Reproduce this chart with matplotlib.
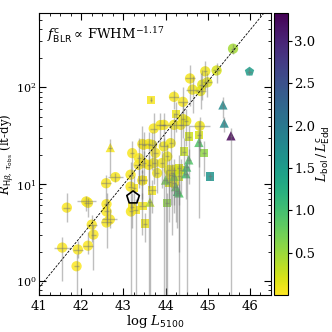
import numpy as np
import matplotlib
matplotlib.use("Agg")
import matplotlib.pyplot as plt
from matplotlib.ticker import MultipleLocator

plt.rcParams['font.family'] = 'serif'
plt.rcParams['font.serif'] = ['DejaVu Serif']
plt.rcParams['mathtext.fontset'] = 'dejavuserif'
plt.rcParams['font.size'] = 10

# circles: log L5100, R, xerr, lower R, upper R, Lbol/LEdd
circ_x = [41.55, 41.66, 41.89, 41.92, 42.12, 42.16, 42.16, 42.25, 42.29, 42.59,
          42.81, 42.60, 42.60, 42.60, 42.68, 43.17, 43.17, 43.18, 43.21, 43.37,
          43.36, 43.45, 43.45, 43.48, 43.48, 43.60, 43.60, 43.68, 43.72, 43.72,
          43.76, 43.80, 43.88, 43.92, 43.96, 43.96, 44.04, 44.08, 44.12, 44.12,
          44.16, 44.20, 44.20, 44.20, 44.20, 44.36, 44.41, 44.42, 44.49, 44.58,
          44.64, 44.81, 44.83, 44.87, 44.94, 44.99, 45.21, 45.60]
circ_y = [2.2, 5.7, 1.41, 2.1, 6.6, 6.4, 2.3, 3.8, 3.0, 10.2,
          11.8, 6.2, 5.2, 4.0, 4.3, 12.5, 9.4, 5.2, 20.9, 18.5,
          15.8, 10.9, 26, 16.5, 25.5, 26, 15.8, 25.5, 16.5, 37.6,
          21, 13, 40.8, 16.5, 24.5, 41, 19.3, 14, 26.5, 12.5,
          13, 10.2, 14, 41, 80, 41, 71, 47, 45, 124,
          95, 40, 92, 107, 147, 113, 150, 252]
circ_xe = [.2, .08, .05, .12, .22, .1, .12, .12, .05, .12,
           .18, .05, .05, .12, .18, .05, .05, .05, .05, .05,
           .1, .1, .1, .05, .05, .05, .05, .1, .05, .08,
           .05, .05, .1, .05, .1, .05, .05, .05, .05, .05,
           .05, .05, .05, .35, .12, .05, .12, .05, .05, .12,
           .15, .25, .12, .08, .05, .1, .08, .05]
circ_lo = [1.0, 4.0, 0.5, 1.7, 5.3, 4.6, 1.9, 2.5, 1.3, 6.0,
           10.5, 4.5, 3.8, 2.2, 3.5, 9.5, 5.5, 0.5, 12, 9,
           10, 6, 13, 10, 15, 0.5, 9, 14, 10, 22,
           12, 8, 25, 9, 0.5, 25, 10, 7, 15, 6,
           3, 5, 8, 25, 60, 20, 55, 30, 25, 65,
           55, 22, 60, 75, 95, 80, 110, 220]
circ_hi = [2.8, 8.0, 1.9, 2.6, 7.5, 7.2, 3.2, 4.8, 3.8, 12.5,
           13, 8, 6.5, 5.5, 5.5, 17, 12, 6.5, 28, 30,
           20, 14, 40, 22, 35, 35, 20, 35, 22, 55,
           28, 18, 55, 22, 30, 55, 26, 18, 40, 15,
           16, 13, 18, 55, 95, 55, 100, 70, 60, 170,
           130, 50, 140, 150, 190, 140, 180, 280]
circ_c = [.02, .02, .02, .03, .03, .04, .02, .03, .02, .03,
          .04, .02, .03, .04, .03, .04, .03, .04, .03, .04,
          .04, .05, .03, .05, .05, .05, .05, .08, .08, .05,
          .05, .08, .05, .08, .08, .05, .1, .12, .08, .12,
          .12, .15, .15, .08, .05, .08, .05, .08, .12, .05,
          .08, .08, .12, .15, .08, .15, .2, .45]

# squares
sq_x = [43.65, 43.25, 43.45, 43.68, 43.29, 43.21, 43.45, 43.51, 44.25, 44.80,
        44.55, 44.91, 44.44, 44.32, 44.32, 44.08, 44.36, 44.04, 45.06]
sq_y = [74.6, 9.1, 11, 8.6, 5.4, 5.8, 5.9, 3.9, 53, 32,
        31, 21, 21.7, 14.6, 12, 10.4, 14, 6.4, 12]
sq_xe = [.03, .05, .05, .1, .05, .05, .08, .05, .05, .05,
         .05, .05, .05, .05, .05, .05, .05, .05, .05]
sq_lo = [70, 6, 7, 5, 0.5, 3.5, 3, 2.5, 35, 4.5,
         18, 12, 12, 0.5, 6, 4, 8, 0.5, 11]
sq_hi = [80, 12, 14, 11, 7, 8, 8, 5, 70, 45,
         40, 28, 30, 20, 16, 13, 18, 8, 13]
sq_c = [.05, .05, .05, .08, .05, .05, .08, .1, .1, .2,
        .25, .55, .3, .2, .25, .2, .25, .55, 1.6]

# triangles
tri_x = [42.69, 44.79, 44.55, 44.50, 44.48, 44.28, 44.00, 44.20, 44.24, 44.32,
         43.63, 45.36, 45.39, 45.55]
tri_y = [23.9, 27, 17.8, 15, 12.8, 8.4, 11, 12, 9.4, 8.1,
         6.5, 66, 42.8, 31.6]
tri_xe = [.05, .05, .05, .05, .05, .05, .05, .05, .05, .05,
          .05, .03, .03, .03]
tri_lo = [12, 15, 10, 0.5, 7, 3.5, 0.5, 6, 4, 2,
          0.5, 48, 35, 0.5]
tri_hi = [29, 35, 23, 20, 16, 10, 14, 15, 12, 10,
          8, 80, 50, 38]
tri_c = [.05, .9, .9, 1.0, 1.0, 1.0, .7, .6, .8, .9,
         .35, 1.75, 1.75, 3.3]

# pentagon
pen_x = [45.99]
pen_y = [146]
pen_lo = [135]
pen_hi = [158]
pen_c = [1.5]

open_x = [43.23]
open_y = [7.25]

fig = plt.figure(figsize=(3.32, 3.32), dpi=100)
ax = fig.add_axes([0.1175, 0.1114, 0.6988, 0.8494])
cax = fig.add_axes([0.8253, 0.1114, 0.0422, 0.8494])

cmap = plt.get_cmap('viridis_r')
vmin, vmax = 0.0, 3.33

groups = [
    (circ_x, circ_y, circ_xe, circ_lo, circ_hi, circ_c, 'o', 55),
    (sq_x, sq_y, sq_xe, sq_lo, sq_hi, sq_c, 's', 36),
    (tri_x, tri_y, tri_xe, tri_lo, tri_hi, tri_c, '^', 45),
    (pen_x, pen_y, [0.05], pen_lo, pen_hi, pen_c, 'p', 50),
]
for gx, gy, gxe, glo, ghi, gc, mk, s in groups:
    gy_a = np.array(gy)
    yerr = [gy_a - np.array(glo), np.array(ghi) - gy_a]
    ax.errorbar(gx, gy, xerr=gxe, yerr=yerr, fmt='none', ecolor='0.45',
                elinewidth=1.0, alpha=0.45, zorder=3)
    sc = ax.scatter(gx, gy, c=gc, cmap=cmap, vmin=vmin, vmax=vmax, marker=mk,
                    s=s, alpha=0.85, edgecolors='none', zorder=2)

ax.scatter(open_x, open_y, marker='p', s=90, facecolors='none',
           edgecolors='black', linewidths=1.2, zorder=4)

# R-L relation
xl = np.linspace(41, 46.5, 50)
ax.plot(xl, 10**(1.527 + 0.533*(xl - 44)), color='black', lw=0.6,
        ls=(0, (3, 1.5)), zorder=4)

ax.set_yscale('log')
ax.set_xlim(41, 46.5)
ax.set_ylim(0.71, 590)
ax.xaxis.set_major_locator(MultipleLocator(1))
ax.xaxis.set_minor_locator(MultipleLocator(0.25))
ax.tick_params(which='both', direction='in', top=True, right=True, labelsize=9.5)
ax.tick_params(axis='y', labelsize=8, pad=2)
ax.tick_params(which='major', length=5)
ax.tick_params(which='minor', length=2.5)
ax.set_xlabel(r"$\log\,L_{\mathsf{5100}}$", fontsize=9.5, labelpad=0)
ax.set_ylabel(r"$R_{\mathsf{H}\beta,\,\tau_{\mathsf{obs}}}$ (lt-dy)", fontsize=8.5)
ax.yaxis.set_label_coords(-0.1, 0.5)
ax.text(0.035, 0.955, r"$f^{\mathsf{c}}_{\mathsf{BLR}}\propto\,\mathrm{FWHM}^{-1.17}$",
        transform=ax.transAxes, ha='left', va='top', fontsize=9.5)

cb = fig.colorbar(sc, cax=cax)
cb.set_ticks([0.5, 1.0, 1.5, 2.0, 2.5, 3.0])
cb.solids.set_alpha(1)
cb.ax.tick_params(direction='out', length=3, labelsize=9.5, pad=1.5)
cb.set_label(r"$L_{\mathsf{bol}}\,/\,L^{\mathsf{c}}_{\mathsf{Edd}}$", fontsize=9)
cb.ax.yaxis.set_label_coords(2.9, 0.5)

fig.savefig('out.png', dpi=100)
